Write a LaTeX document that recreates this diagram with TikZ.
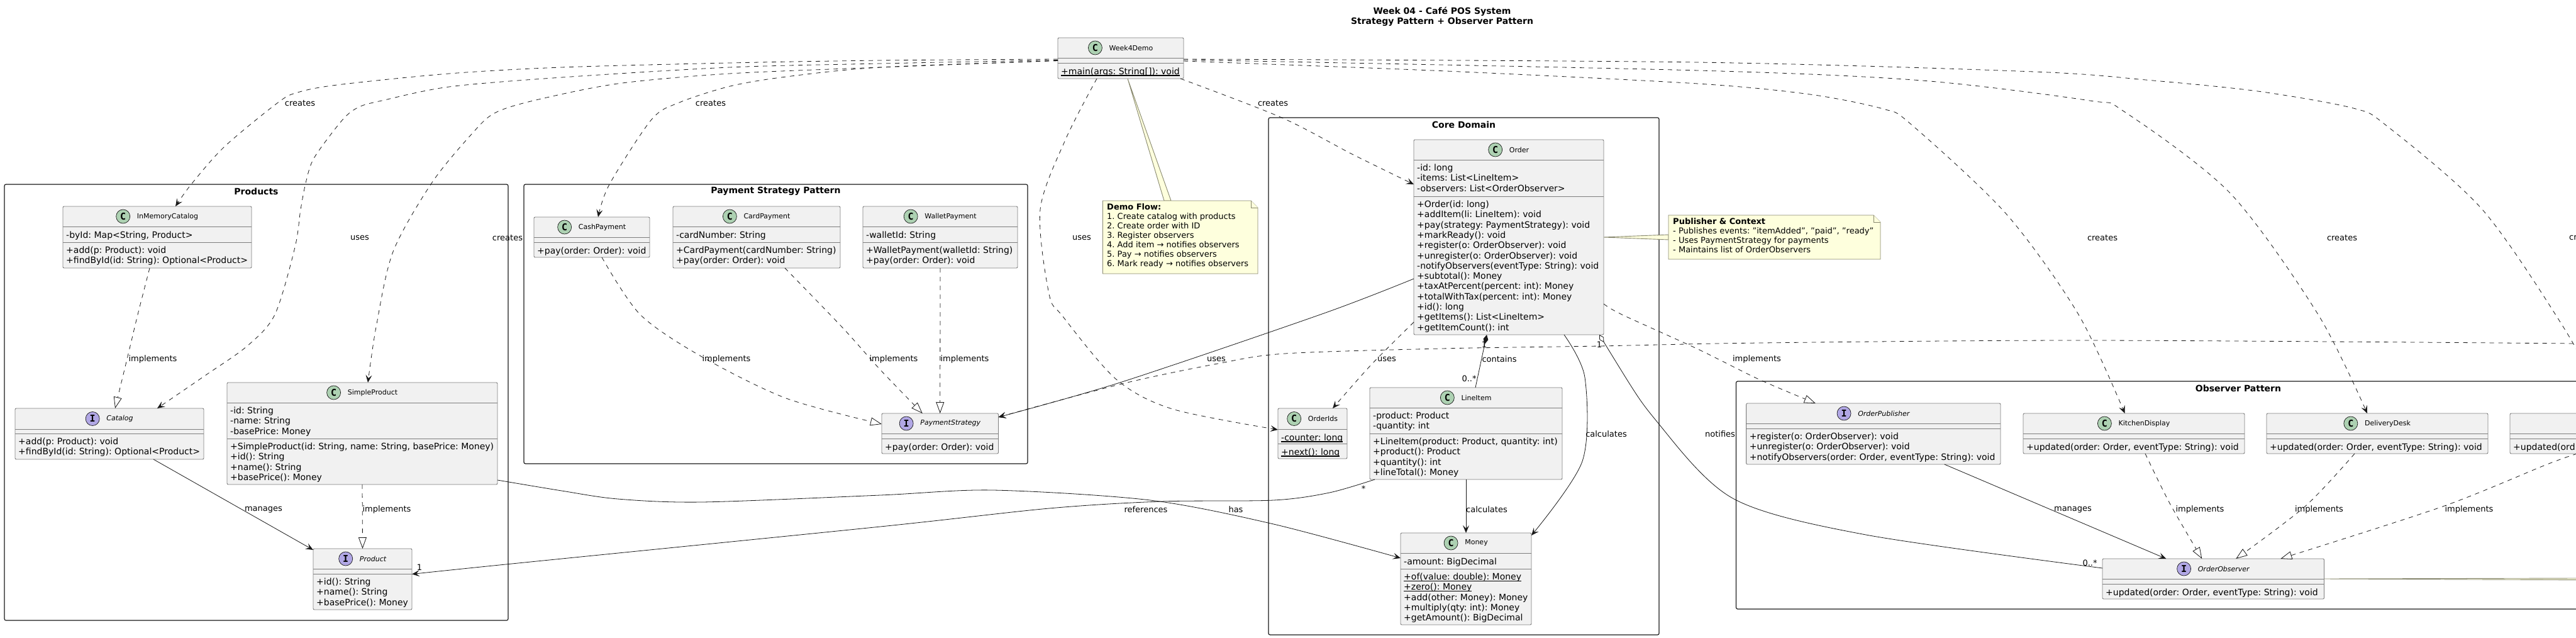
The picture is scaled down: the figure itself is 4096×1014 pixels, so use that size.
\documentclass[tikz,border=0pt]{standalone}
\usepackage{fontspec}
\setmainfont{DejaVu Sans}
\setmonofont{DejaVu Sans Mono}
\usetikzlibrary{arrows.meta, calc}
\definecolor{classfill}{RGB}{241,241,241}
\definecolor{classedge}{RGB}{125,125,125}
\definecolor{linkink}{RGB}{24,24,24}
\definecolor{notefill}{RGB}{254,255,221}
\definecolor{noteedge}{RGB}{135,135,110}
\definecolor{kindcfill}{RGB}{173,209,178}
\definecolor{kindifill}{RGB}{177,167,229}

\tikzset{
  classbox/.style={draw=classedge, fill=classfill, line width=.9pt, rounded corners=2pt, inner sep=0pt, outer sep=0pt},
  classline/.style={draw=classedge, line width=.9pt},
  packbox/.style={draw=linkink, line width=1.2pt, rounded corners=2.5pt, inner sep=0pt, outer sep=0pt},
  packtitle/.style={inner sep=0pt, font=\fontsize{14}{16}\selectfont\bfseries},
  classtitle C/.style={inner sep=0pt, font=\fontsize{11}{13}\selectfont},
  classtitle I/.style={inner sep=0pt, font=\fontsize{11}{13}\selectfont\itshape},
  kindmark/.style={circle, draw=linkink, line width=.7pt, minimum size=22pt, inner sep=0pt, font=\fontsize{15}{15}\selectfont\ttfamily\bfseries},
  kind C/.style={fill=kindcfill},
  kind I/.style={fill=kindifill},
  memberrows/.style={anchor=north west, yshift=-6.7pt, inner sep=0pt, align=left, font=\fontsize{14}{16.3}\selectfont, execute at begin node=\strut},
  noterows/.style={anchor=north west, inner sep=0pt, align=left, font=\fontsize{13}{15}\selectfont, execute at begin node=\strut},
  notebox/.style={draw=noteedge, fill=notefill, line width=.9pt},
  linklabel/.style={inner sep=0pt, font=\fontsize{13}{15}\selectfont},
  linkline/.style={draw=linkink, line width=.8pt},
  solidarrow/.style={linkline, -{Stealth[length=12pt,width=10pt,inset=5pt]}},
  dasharrow/.style={solidarrow, dash pattern=on 7pt off 7pt},
  realizes/.style={linkline, dash pattern=on 7pt off 7pt, -{Triangle[length=18pt,width=13pt,fill=white]}}
}

\newcommand{\umlclass}[9]{%
  \node[classbox, minimum width={(#4-#2)*1pt}, minimum height={(#5-#3)*1pt}] (#1) at ({(#2+#4)/2},{(#3+#5)/2}) {};
  \draw[classline] (#2,#6) -- (#4,#6);
  \draw[classline] (#2,#7) -- (#4,#7);
  \coordinate (#1-fields) at (#2+5,#6);
  \coordinate (#1-methods) at (#2+5,#7);
  \node[classtitle #8] (#1-title) at ({(#2+#4)/2},{(#3+#6)/2}) {\hspace*{33pt}#9};
  \node[kindmark, kind #8] (#1-kind) at ([xshift=11pt]#1-title.west) {#8};
}
\newcommand{\umlrows}[2]{\node[memberrows] (#1-text) at (#1) {#2};}
\newcommand{\staticrow}[1]{\sbox0{#1}\usebox0\llap{\rule[-2.2pt]{\wd0}{1.2pt}}}
\newcommand{\umlpackage}[6]{%
  \node[packbox, minimum width={(#4-#2)*1pt}, minimum height={(#5-#3)*1pt}] (#1) at ({(#2+#4)/2},{(#3+#5)/2}) {};
  \node[packtitle] (#1-title) at ([yshift=-11pt]#1.north) {#6};
}
\newcommand{\umlnote}[5]{%
  \node[inner sep=0pt, outer sep=0pt, minimum width={(#4-#2)*1pt}, minimum height={(#5-#3)*1pt}] (#1) at ({(#2+#4)/2},{(#3+#5)/2}) {};
  \draw[notebox] (#1.north west) -- ([xshift=-11pt]#1.north east) -- ([yshift=-11pt]#1.north east) -- (#1.south east) -- (#1.south west) -- cycle;
  \draw[notebox] ([xshift=-11pt]#1.north east) -- ([xshift=-11pt,yshift=-11pt]#1.north east) -- ([yshift=-11pt]#1.north east);
}

\begin{document}
\frenchspacing
\begin{tikzpicture}[x=1pt,y=-1pt]
  \useasboundingbox (0,0) rectangle (4096,1014);
  \clip (0,0) rectangle (4096,1014);

  \node[align=center, inner sep=0pt, font=\fontsize{14}{16}\selectfont\bfseries] (diagramtitle) at (2293,26)
    {Week 04 - Café POS System\\Strategy Pattern + Observer Pattern};

  \umlpackage{products}{7}{293}{808}{986}{Products}
  \umlpackage{paystrategy}{833}{293}{1634}{737}{Payment Strategy Pattern}
  \umlpackage{coredomain}{2017}{187}{2638}{1009}{Core Domain}
  \umlpackage{observerpack}{2760.5}{606}{4357.5}{968}{Observer Pattern}

  \umlclass{demo}{1682}{60}{1882}{125}{92}{100}{C}{Week4Demo}
  \umlclass{imc}{100}{328}{400}{426}{360}{385}{C}{InMemoryCatalog}
  \umlclass{catalog}{24}{649}{324}{730}{682}{689}{I}{Catalog}
  \umlclass{simple}{361}{608}{791}{770}{640}{697}{C}{SimpleProduct}
  \umlclass{product}{498}{872}{655}{969}{904}{912}{I}{Product}
  \umlclass{cash}{849}{345}{1033}{409}{377}{385}{C}{CashPayment}
  \umlclass{card}{1070}{328}{1336}{426}{360}{385}{C}{CardPayment}
  \umlclass{wallet}{1372}{328}{1618}{426}{360}{385}{C}{WalletPayment}
  \umlclass{pay}{1402}{657}{1587.5}{721}{689}{697}{I}{PaymentStrategy}
  \umlclass{order}{2248}{222}{2550}{532}{254}{312}{C}{Order}
  \umlclass{ids}{2032}{649}{2142}{729}{682}{705}{C}{OrderIds}
  \umlclass{item}{2178}{616}{2484}{762}{648}{689}{C}{LineItem}
  \umlclass{money}{2227}{847}{2435}{993}{879}{904}{C}{Money}
  \umlclass{publisher}{2776.6}{641}{3181}{738}{673}{681}{I}{OrderPublisher}
  \umlclass{kitchen}{3217}{657}{3569}{721}{689}{697}{C}{KitchenDisplay}
  \umlclass{delivery}{3604}{657}{3956}{721}{689}{697}{C}{DeliveryDesk}
  \umlclass{observer}{3343}{888}{3695.5}{952}{920}{928}{I}{OrderObserver}

  \node[classbox, minimum width=352pt, minimum height=64pt] (thirdobs) at (4167,689) {};
  \draw[classline] (thirdobs.west) -- (thirdobs.east);
  \draw[classline] (3991,697) -- (4343,697);

  \coordinate (offright) at (4180,548);
  \coordinate (offnotea) at (4300,918.5);
  \coordinate (offnoteb) at (4300,922.5);

  \draw[dasharrow] plot[smooth] coordinates {([yshift=-1.5pt]demo.west) (1400,96) (1160,100) (893,107) (714,117) (536,135) (473,147) (442,163) (357,233) (304,293) ([xshift=29pt]imc.north)};
  \draw[dasharrow] plot[smooth] coordinates {([yshift=-3pt]demo.west) (1400,101) (1160,107) (893,123) (714,138) (607,160) (571,170) (545,190) (500,250) (487,287) (478,333) (469,393) (437,500) (393,550) (326,597) ([xshift=76pt]catalog.north)};
  \draw[dasharrow] plot[smooth] coordinates {([yshift=-4pt]demo.west) (1400,107) (1160,117) (982,133) (848,160) (786,180) (750,213) (687,290) (625,400) (598,520) ([xshift=9pt]simple.north)};
  \draw[dasharrow] plot[smooth] coordinates {([yshift=-4pt]demo.west) (1400,107) (1250,122) (1161,137) (1080,163) (1036,190) (969,293) ([xshift=10pt]cash.north)};
  \draw[dasharrow] plot[smooth] coordinates {([xshift=-38pt]demo.south) (1695,220) (1654,333) (1668,467) (1690,503) (1775,603) (1864,650) ([yshift=6pt]ids.west)};
  \draw[dasharrow] plot[smooth] coordinates {([xshift=95pt]demo.south) (2038,187) (2150,245) ([yshift=84pt]order.west)};
  \draw[dasharrow] plot[smooth] coordinates {([yshift=-1.5pt]demo.east) (2700,99) (3234,114) (3412,127) (3590,145) (3742,172) (3795,200) (3947,333) (4076,520) ([xshift=-16pt]thirdobs.north)};
  \draw[dasharrow] plot[smooth] coordinates {([yshift=-2.5pt]demo.east) (2700,112) (3056,128) (3323,160) (3377,177) (3546,307) (3686,500) ([xshift=-16pt]delivery.north)};
  \draw[dasharrow] plot[smooth] coordinates {([yshift=-4.5pt]demo.east) (2300,113) (2700,133) (2878,150) (2994,173) (3038,197) (3190,340) (3305,500) ([xshift=-14.5pt]kitchen.north)};
  \draw[dasharrow] plot[smooth] coordinates {(offright) (4096,546) (3323,541) (2800,545) (2543,550) (2293,554) (2043,562) (1936,578) (1784,610) ([yshift=26pt]pay.east)};
  \draw[solidarrow] plot[smooth] coordinates {([yshift=-66pt]order.west) (2105,498) (1784,607) ([yshift=26pt]pay.east)};
  \draw[dasharrow] plot[smooth] coordinates {([yshift=-135pt]order.west) (2180,580) ([xshift=32pt]ids.north)};

  \draw[realizes] plot[smooth] coordinates {([xshift=-12pt]imc.south) (219,500) (207,550) ([xshift=9pt]catalog.north)};
  \draw[realizes] (simple.south) -- (product.north);
  \draw[realizes] plot[smooth] coordinates {([xshift=16pt]cash.south) (1018,500) (1116,567) (1250,633) ([yshift=15pt]pay.west)};
  \draw[realizes] plot[smooth] coordinates {([xshift=45pt]card.south) (1339,520) (1400,588) ([xshift=-28pt]pay.north)};
  \draw[realizes] (wallet.south) -- (pay.north);
  \draw[realizes] plot[smooth] coordinates {([yshift=-106pt]order.east) (2579,500) (2700,555) (2797,603) ([xshift=-92pt]publisher.north)};
  \draw[realizes] plot[smooth] coordinates {([xshift=18pt]kitchen.south) (3450,800) ([xshift=-18pt]observer.north)};
  \draw[realizes] plot[smooth] coordinates {([xshift=-36pt]delivery.south) (3665,805) ([xshift=36pt]observer.north)};
  \draw[realizes] plot[smooth] coordinates {([xshift=-69pt]thirdobs.south) (4050,738) (3884,805) ([xshift=107pt]observer.north)};

  \draw[solidarrow] ([xshift=70pt]catalog.south) -- ([yshift=-2pt]product.north west);
  \draw[solidarrow] plot[smooth] coordinates {([yshift=-74pt]simple.east) (893,780) (982,793) (1116,798) (1400,787) (1579,779) (1829,795) (2025,833) ([yshift=33pt]money.west)};
  \draw[solidarrow] plot[smooth] coordinates {([xshift=-145pt]item.south) (2114,783) (2025,795) (1846,797) (1668,808) (1400,837) (804,897) ([yshift=8pt]product.east)};
  \draw[solidarrow] plot[smooth] coordinates {([xshift=88pt]order.south) (2520,600) (2516,733) ([yshift=-4pt]money.north east)};
  \draw[solidarrow] (item.south) -- (money.north);
  \draw[linkline, {Diamond[length=15pt,width=8pt]}-] ([xshift=-35pt]order.south) -- ([xshift=15pt]item.north);
  \draw[linkline, {Diamond[length=14pt,width=8pt,fill=white]}-] plot[smooth] coordinates {([xshift=144pt]order.south) (2637,673) (2757,793) (2967,850) ([yshift=17pt]observer.west)};
  \draw[solidarrow] ([xshift=113pt]publisher.south) -- ([xshift=-75pt]observer.north);

  \draw[notebox] ([xshift=11pt]demo.south) -- (1851,319) -- (1862,319) -- cycle;
  \umlnote{demonote}{1753.5}{319}{2000}{435}
  \node[noterows] (demonote-text) at (1760,323)
    {\textbf{Demo Flow:}\\1. Create catalog with products\\2. Create order with ID\\3. Register observers\\4. Add item → notifies observers\\5. Pay → notifies observers\\6. Mark ready → notifies observers};

  \draw[notebox] (order.east) -- (2653,373) -- (2653,381) -- cycle;
  \umlnote{pubnote}{2653}{342}{2990}{412}
  \node[noterows] (pubnote-text) at (2660,346)
    {\textbf{Publisher \& Context}\\- Publishes events: "itemAdded", "paid", "ready"\\- Uses PaymentStrategy for payments\\- Maintains list of OrderObservers};

  \draw[notebox] (observer.east) -- (offnotea) -- (offnoteb) -- cycle;

  \umlrows{demo-methods}{\staticrow{+main(args: String[]): void}}
  \umlrows{imc-fields}{-byId: Map<String, Product>}
  \umlrows{imc-methods}{+add(p: Product): void\\+findById(id: String): Optional<Product>}
  \umlrows{catalog-methods}{+add(p: Product): void\\+findById(id: String): Optional<Product>}
  \umlrows{simple-fields}{-id: String\\-name: String\\-basePrice: Money}
  \umlrows{simple-methods}{+SimpleProduct(id: String, name: String, basePrice: Money)\\+id(): String\\+name(): String\\+basePrice(): Money}
  \umlrows{product-methods}{+id(): String\\+name(): String\\+basePrice(): Money}
  \umlrows{cash-methods}{+pay(order: Order): void}
  \umlrows{card-fields}{-cardNumber: String}
  \umlrows{card-methods}{+CardPayment(cardNumber: String)\\+pay(order: Order): void}
  \umlrows{wallet-fields}{-walletId: String}
  \umlrows{wallet-methods}{+WalletPayment(walletId: String)\\+pay(order: Order): void}
  \umlrows{pay-methods}{+pay(order: Order): void}
  \umlrows{order-fields}{-id: long\\-items: List<LineItem>\\-observers: List<OrderObserver>}
  \umlrows{order-methods}{+Order(id: long)\\+addItem(li: LineItem): void\\+pay(strategy: PaymentStrategy): void\\+markReady(): void\\+register(o: OrderObserver): void\\+unregister(o: OrderObserver): void\\-notifyObservers(eventType: String): void\\+subtotal(): Money\\+taxAtPercent(percent: int): Money\\+totalWithTax(percent: int): Money\\+id(): long\\+getItems(): List<LineItem>\\+getItemCount(): int}
  \umlrows{ids-fields}{\staticrow{-counter: long}}
  \umlrows{ids-methods}{\staticrow{+next(): long}}
  \umlrows{item-fields}{-product: Product\\-quantity: int}
  \umlrows{item-methods}{+LineItem(product: Product, quantity: int)\\+product(): Product\\+quantity(): int\\+lineTotal(): Money}
  \umlrows{money-fields}{-amount: BigDecimal}
  \umlrows{money-methods}{\staticrow{+of(value: double): Money}\\\staticrow{+zero(): Money}\\+add(other: Money): Money\\+multiply(qty: int): Money\\+getAmount(): BigDecimal}
  \umlrows{publisher-methods}{+register(o: OrderObserver): void\\+unregister(o: OrderObserver): void\\+notifyObservers(order: Order, eventType: String): void}
  \foreach \obs in {kitchen,delivery,observer} {
    \umlrows{\obs-methods}{+updated(order: Order, eventType: String): void}
  }
  \node[memberrows] (thirdobs-text) at (3996,697) {+updated(ord};

  \foreach \x/\y [count=\i] in {477/164,807/378,1130/164,2024/164,3343/378,3724/378}
    \node[linklabel] (creates\i) at (\x,\y) {creates};
  \node[linklabel, anchor=west] (creates7) at (4085,378) {cr};
  \foreach \x/\y [count=\i] in {572/378,1720/378,1934/571,2205/571}
    \node[linklabel] (uses\i) at (\x,\y) {uses};
  \foreach \x/\y [count=\i] in {243/571,615/810,1155/571,1421/571,1534/571,2793.5/571,3498/810,3687.5/810,3926/810}
    \node[linklabel] (implements\i) at (\x,\y) {implements};
  \foreach \x/\y [count=\i] in {419/810,3296/810}
    \node[linklabel] (manages\i) at (\x,\y) {manages};
  \foreach \x/\y [count=\i] in {2554/690,2364/810}
    \node[linklabel] (calculates\i) at (\x,\y) {calculates};
  \node[linklabel] (hasmoney) at (1965,810) {has};
  \node[linklabel] (references) at (1822,810) {references};
  \node[linklabel] (contains) at (2384,571) {contains};
  \node[linklabel] (notifies) at (2735,690) {notifies};
  \foreach \x/\y/\t [count=\i] in {667/902/1,2168/777/*,2360/548/1,2336/602/0..*,2543/548/1,3323/895/0..*}
    \node[linklabel] (mult\i) at (\x,\y) {\t};
\end{tikzpicture}
\end{document}
